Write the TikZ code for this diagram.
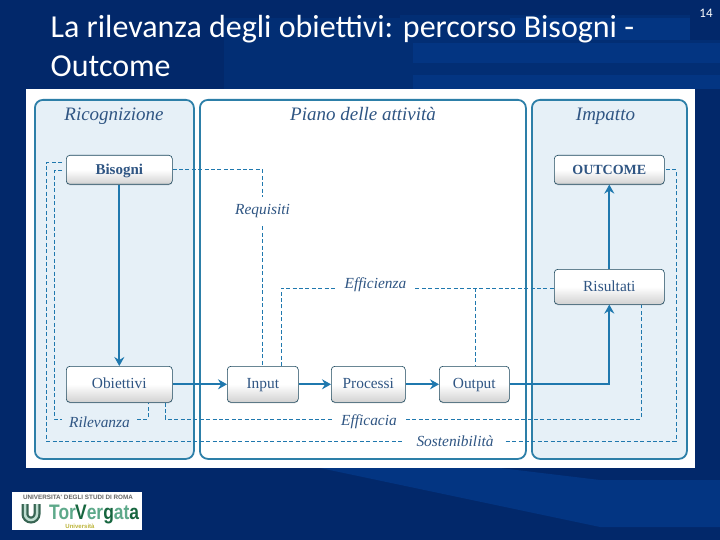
\documentclass[tikz,border=0pt]{standalone}
\usepackage{fontspec}
\setmainfont{Liberation Serif}
\newfontfamily\titlefont{Carlito}
\newfontfamily\logofont{Liberation Sans}
\usetikzlibrary{positioning,shadows,arrows.meta}
\definecolor{slidebg}{HTML}{02286A}
\definecolor{slidemid}{HTML}{022E74}
\definecolor{slideband}{HTML}{033582}
\definecolor{panelline}{HTML}{2D7FA8}
\definecolor{panelfill}{HTML}{E6F0F7}
\definecolor{flowline}{HTML}{1F78AE}
\definecolor{inktext}{HTML}{2F5583}
\definecolor{logodark}{HTML}{17663F}
\definecolor{logolight}{HTML}{5DA98A}
\tikzset{
  panelbox/.style={draw=panelline,line width=1.8pt,rounded corners=8pt,anchor=north west,inner sep=0},
  stepbox/.style={draw=black!45!panelline,line width=.6pt,rounded corners=3.5pt,top color=white,bottom color=black!18,middle color=white,
    drop shadow={shadow xshift=0pt,shadow yshift=-1pt,opacity=.25},
    font=\fontsize{15.4}{17}\selectfont,text=inktext,inner sep=0,anchor=north west,text height=12pt,text depth=3pt},
  headlabel/.style={font=\fontsize{19}{22}\selectfont\itshape,text=inktext,anchor=base},
  deplabel/.style={font=\fontsize{15.4}{17}\selectfont\itshape,text=inktext,inner xsep=9pt,inner ysep=8pt},
  flow/.style={draw=flowline,line width=2pt,-{Stealth[length=9pt,width=10pt,inset=3pt]}},
  dep/.style={draw=flowline,line width=1pt,dash pattern=on 4pt off 2.4pt},
}
\newcommand{\stepnode}[7]{% name, x, y, width, height, font, label
  \node[stepbox,minimum width=#4,minimum height=#5,#6] (#1) at (#2,#3) {#7};}
\begin{document}
\begin{tikzpicture}[x=1pt,y=-1pt]
  \useasboundingbox (0,0) rectangle (720,540);
  % slide background
  \fill[slidebg] (0,0) rectangle (720,540);
  \fill[slidemid] (224,18) rectangle (413,89);
  \fill[slidemid] (400,15) rectangle (690,40);
  \fill[slideband] (510,18) rectangle (690,40);
  \fill[slidemid] (413,40) rectangle (720,89);
  \fill[slideband] (413,43) rectangle (720,63);
  \fill[slideband] (413,75) rectangle (720,89);
  \fill[slideband] (320,468) -- (600,527) -- (720,527) -- (720,480) -- (600,480) -- (500,468) -- cycle;
  % title and page number
  \node[font=\titlefont\fontsize{32}{38.5}\selectfont,text=white,align=left,anchor=north west,inner sep=0] (title) at (50.5,15.5)
       {La rilevanza degli obiettivi: percorso Bisogni -\\Outcome};
  \node[font=\titlefont\fontsize{13}{15}\selectfont,text=white] (pagenum) at (706,13) {14};
  % white sheet and the three panels
  \fill[white] (26,89) rectangle (695,468);
  \node[panelbox,fill=panelfill,minimum width=159pt,minimum height=359pt] (ricog) at (34,99) {};
  \node[panelbox,fill=white,minimum width=326pt,minimum height=359pt] (piano) at (199,99) {};
  \node[panelbox,fill=panelfill,minimum width=155pt,minimum height=359pt] (impat) at (531,99) {};
  \node[headlabel] (ricoglab) at (114,121) {Ricognizione};
  \node[headlabel] (pianolab) at (363,121) {Piano delle attività};
  \node[headlabel] (impatlab) at (605.5,121) {Impatto};
  % boxes
  \stepnode{bis}{66}{155}{106pt}{29pt}{font=\fontsize{15}{17}\selectfont\bfseries}{Bisogni}
  \stepnode{out}{554}{155}{110pt}{29pt}{font=\fontsize{14}{17}\selectfont\bfseries}{OUTCOME}
  \stepnode{ris}{554}{269}{110pt}{35pt}{}{Risultati}
  \stepnode{obi}{66}{366}{106pt}{36pt}{}{Obiettivi}
  \stepnode{inp}{227}{366}{71pt}{36pt}{}{Input}
  \stepnode{pro}{331}{366}{74pt}{36pt}{}{Processi}
  \stepnode{opt}{439}{366}{70pt}{36pt}{}{Output}
  % labels on the dashed lines
  \node[deplabel] (req) at (262.5,211.5) {Requisiti};
  \node[deplabel] (eff) at (375.5,285) {Efficienza};
  \node[deplabel,inner xsep=7pt] (ril) at (99.5,422) {Rilevanza};
  \node[deplabel] (efc) at (369,422) {Efficacia};
  \node[deplabel,inner xsep=12pt] (sos) at (455,441.5) {Sostenibilità};
  % solid flow
  \draw[flow] (bis) -- (obi);
  \draw[flow] (obi) -- (inp);
  \draw[flow] (inp) -- (pro);
  \draw[flow] (pro) -- (opt);
  \draw[flow] (opt) -| (ris);
  \draw[flow] (ris) -- (out);
  % dashed links
  \coordinate (effl) at (281,288);
  \coordinate (effr) at (475,288);
  \coordinate (rilb) at (148,419);
  \coordinate (efcb) at (165,419);
  \coordinate (efcr) at (641,419);
  \coordinate (sosl) at (46,441);
  \coordinate (sosr) at (676,441);
  \draw[dep] (bis.east) -- (bis.east -| req) -- (req.north);
  \draw[dep] (req.south) -- (req.south |- inp.north);
  \draw[dep] (effl |- inp.north) -- (effl) -- (eff.west |- effl);
  \draw[dep] (eff.east |- effr) -- (effl -| ris.west);
  \draw[dep] (effr) -- (effr |- opt.north);
  \draw[dep] ([xshift=-4pt,yshift=-1pt]bis.west) -- ++(-8,0) |- (ril.west |- rilb);
  \draw[dep] (ril.east |- rilb) -- (rilb) -- (rilb |- obi.south);
  \draw[dep] (efcb |- obi.south) -- (efcb) -- (efc.west |- efcb);
  \draw[dep] (efc.east |- efcr) -- (efcr) -- (efcr |- ris.south);
  \draw[dep] ([xshift=-4pt,yshift=7pt]bis.west) -- ([yshift=7pt]bis.west -| sosl) -- (sosl) -- (sos.west |- sosl);
  \draw[dep] (sos.east |- sosr) -- (sosr) -- (sosr |- out.east) -- (out.east);
  % logo
  \fill[white] (12,492) rectangle (142,530);
  \node[font=\logofont\bfseries\fontsize{6.3}{7}\selectfont,text=black!60,inner sep=0] (logotop) at (78,497) {UNIVERSITA' DEGLI STUDI DI ROMA};
  \draw[line width=7pt,black!40!logolight] (25,504) -- (25,514) arc[start angle=180,end angle=0,radius=6] -- (37,504);
  \draw[line width=2.5pt,logolight!40] (25,504) -- (25,514) arc[start angle=180,end angle=0,radius=6] -- (37,504);
  \node[font=\logofont\bfseries\fontsize{21}{22}\selectfont,inner sep=0,anchor=west] (logoname) at (49,514.5)
       {\scalebox{.83}[1]{\textcolor{logolight}{Tor}\kern-1pt\textcolor{logodark}{V}\textcolor{logolight}{er}\textcolor{logodark}{g}\textcolor{logolight}{at}\textcolor{logodark}{a}}};
  \node[font=\logofont\bfseries\fontsize{6}{6}\selectfont,text=yellow!70!black,inner sep=0] (logosub) at (80,526.5) {Università};
\end{tikzpicture}
\end{document}
